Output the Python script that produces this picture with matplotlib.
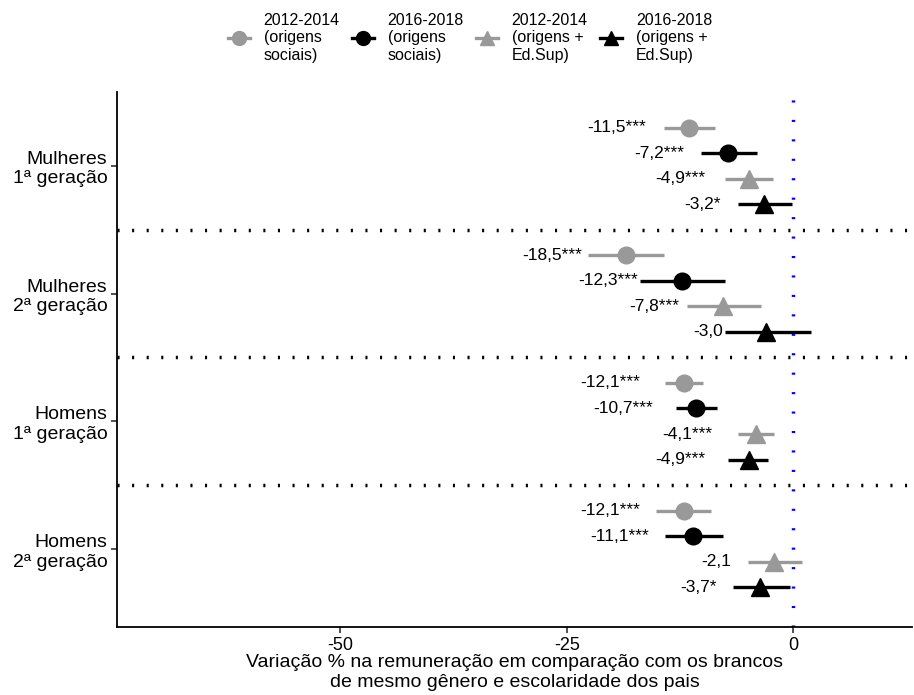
import numpy as np
import matplotlib
matplotlib.use("Agg")
import matplotlib.pyplot as plt
from matplotlib.lines import Line2D

plt.rcParams['font.family'] = ['Liberation Sans', 'DejaVu Sans']

groups = ["Mulheres\n1ª geração", "Mulheres\n2ª geração",
          "Homens\n1ª geração", "Homens\n2ª geração"]

series_names = ["2012-2014\n(origens\nsociais)", "2016-2018\n(origens\nsociais)",
                "2012-2014\n(origens +\nEd.Sup)", "2016-2018\n(origens +\nEd.Sup)"]

# point estimates, one list per series (order follows groups)
est_2012_orig = [-11.5, -18.5, -12.1, -12.1]
est_2016_orig = [-7.2, -12.3, -10.7, -11.1]
est_2012_sup = [-4.9, -7.8, -4.1, -2.1]
est_2016_sup = [-3.2, -3.0, -4.9, -3.7]

# confidence interval bounds
low_2012_orig = [-14.3, -22.7, -14.2, -15.1]
high_2012_orig = [-8.7, -14.3, -10.0, -9.1]
low_2016_orig = [-10.2, -16.9, -12.9, -14.2]
high_2016_orig = [-4.0, -7.5, -8.4, -7.8]
low_2012_sup = [-7.5, -11.7, -6.1, -5.0]
high_2012_sup = [-2.2, -3.6, -2.1, 1.0]
low_2016_sup = [-6.1, -7.5, -7.2, -6.7]
high_2016_sup = [-0.1, 1.9, -2.8, -0.4]

# significance stars
stars_2012_orig = ["***", "***", "***", "***"]
stars_2016_orig = ["***", "***", "***", "***"]
stars_2012_sup = ["***", "***", "***", ""]
stars_2016_sup = ["*", "", "***", "*"]

estimates = [est_2012_orig, est_2016_orig, est_2012_sup, est_2016_sup]
lows = [low_2012_orig, low_2016_orig, low_2012_sup, low_2016_sup]
highs = [high_2012_orig, high_2016_orig, high_2012_sup, high_2016_sup]
stars = [stars_2012_orig, stars_2016_orig, stars_2012_sup, stars_2016_sup]

colors = ["#999999", "#000000", "#999999", "#000000"]
markers = ["o", "o", "^", "^"]
offsets = [-0.3, -0.1, 0.1, 0.3]
label_nudge = -4.8  # labels sit left of the estimate, right-aligned

fig = plt.figure(figsize=(9.14, 6.95), dpi=100)
ax = fig.add_axes([0.128, 0.098, 0.87, 0.77])

ypos = np.arange(1, len(groups) + 1)

# separators between groups
for sep in ypos[:-1] + 0.5:
    ax.axhline(sep, color="black", lw=2.5, linestyle=(0, (0.6, 3.6)), zorder=1)
ax.axvline(0, color="#0000ff", lw=2.5, linestyle=(0, (0.6, 5)), zorder=1)

for k in range(4):
    y = ypos + offsets[k]
    ax.hlines(y, lows[k], highs[k], color=colors[k], lw=2.4, zorder=2)
    ax.plot(estimates[k], y, linestyle="none", marker=markers[k],
            color=colors[k], markersize=12 if markers[k] == "o" else 13, zorder=3)
    for i in range(len(groups)):
        txt = f"{estimates[k][i]:.1f}".replace(".", ",") + stars[k][i]
        ax.text(estimates[k][i] + label_nudge, y[i], txt,
                ha="right", va="center", fontsize=12.5, zorder=4)

ax.set_xlim(-74.6, 13.1)
ax.set_ylim(4.61, 0.42)
ax.set_xticks([-50, -25, 0])
ax.set_xticklabels(["-50", "-25", "0"], fontsize=13)
ax.set_yticks(ypos)
ax.set_yticklabels(groups, fontsize=14, linespacing=1.2)
ax.tick_params(axis="both", length=4, width=1.2, color="#333333", pad=3)
ax.set_xlabel("Variação % na remuneração em comparação com os brancos\n"
              "de mesmo gênero e escolaridade dos pais", fontsize=14, labelpad=0,
              linespacing=1.25)

for s in ["top", "right"]:
    ax.spines[s].set_visible(False)
for s in ["left", "bottom"]:
    ax.spines[s].set_linewidth(1.3)

handles = [Line2D([0], [0], color=colors[k], lw=2.4, marker=markers[k], markersize=10)
           for k in range(4)]
fig.legend(handles, series_names, loc="upper center", bbox_to_anchor=(0.514, 1.002),
           ncol=4, frameon=False, fontsize=11.5, handlelength=1.4, handletextpad=0.85,
           columnspacing=0.75, labelspacing=0.15)

fig.savefig("out.png", dpi=100)
